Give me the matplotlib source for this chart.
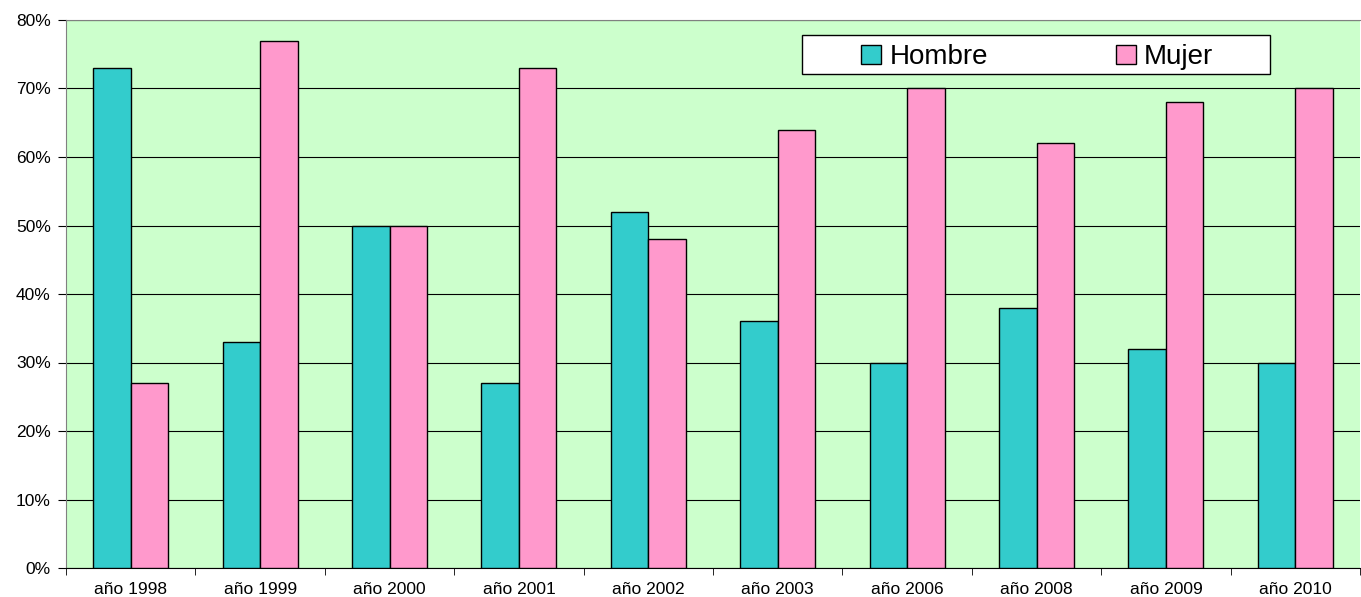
import numpy as np
import matplotlib.pyplot as plt
from matplotlib.patches import Rectangle
from matplotlib.ticker import FuncFormatter

plt.rcParams['font.family'] = ['Liberation Sans', 'DejaVu Sans']

years = ['año 1998', 'año 1999', 'año 2000', 'año 2001', 'año 2002',
         'año 2003', 'año 2006', 'año 2008', 'año 2009', 'año 2010']
hombre = [73, 33, 50, 27, 52, 36, 30, 38, 32, 30]
mujer = [27, 77, 50, 73, 48, 64, 70, 62, 68, 70]

fig = plt.figure(figsize=(13.61, 5.97), dpi=100)
ax = fig.add_axes([66 / 1361, 29 / 597, 1294 / 1361, 548 / 597])
ax.set_facecolor('#ccffcc')

x = np.arange(len(years))
w = 0.29
ax.bar(x - w / 2, hombre, w, color='#33cccc', edgecolor='black', linewidth=1, label='Hombre', zorder=3)
ax.bar(x + w / 2, mujer, w, color='#ff99cc', edgecolor='black', linewidth=1, label='Mujer', zorder=3)

ax.set_ylim(0, 80)
ax.set_xlim(-0.5, len(years) - 0.5)
ax.set_yticks(range(0, 81, 10))
ax.yaxis.set_major_formatter(FuncFormatter(lambda v, p: f'{int(v)}%'))
ax.yaxis.grid(True, color='black', linewidth=0.8, zorder=0)
ax.set_axisbelow(True)

ax.set_xticks(x)
ax.set_xticklabels(years)
ax.tick_params(axis='x', which='major', length=0, pad=10, labelsize=12.5)
ax.set_xticks(np.arange(-0.5, len(years)), minor=True)
ax.tick_params(axis='x', which='minor', length=5, color='black')
ax.tick_params(axis='y', length=6, labelsize=12.5, color='black', pad=5)

ax.spines['top'].set_color('#808080')
ax.spines['left'].set_color('#808080')
ax.spines['right'].set_visible(False)
ax.spines['bottom'].set_color('black')

# legend box (white frame drawn separately so the entries can sit inside it)
def px(xp, yp):
    return (xp - 66) / 1294, (568 - yp) / 548

bx0, by0 = px(802, 74)
bx1, by1 = px(1270, 35)
ax.add_patch(Rectangle((bx0, by0), bx1 - bx0, by1 - by0, transform=ax.transAxes,
                       facecolor='white', edgecolor='black', linewidth=1, zorder=5))
leg = ax.legend(loc='center left', bbox_to_anchor=px(861, 57),
                ncol=2, fontsize=20, frameon=False,
                handlelength=0.72, handleheight=0.65, columnspacing=4.6, handletextpad=0.3,
                borderpad=0, borderaxespad=0)
leg.set_zorder(6)

fig.savefig('out.png', dpi=100)
